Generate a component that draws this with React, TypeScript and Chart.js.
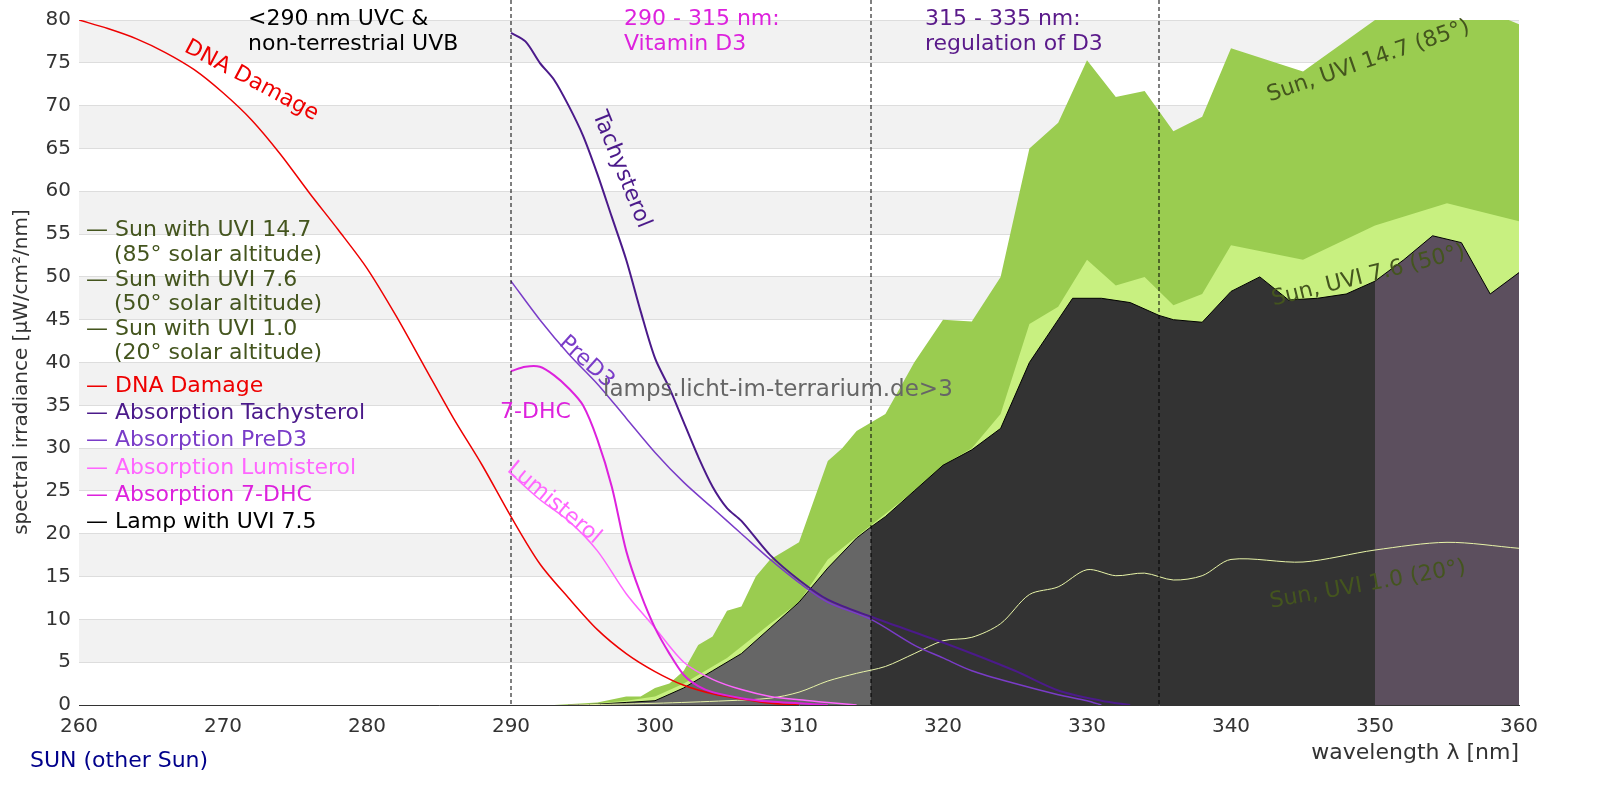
import React, { useEffect, useRef } from "react";
import { Chart, registerables } from "chart.js";
Chart.register(...registerables);

const xTicks = [260, 270, 280, 290, 300, 310, 320, 330, 340, 350, 360];
const sun147X = [293, 296, 298, 299, 300, 301, 302, 303, 304, 305, 306, 307, 308, 310, 312, 313, 314, 315, 316, 318, 320, 322, 324, 326, 328, 330, 332, 334, 336, 338, 340, 345, 350, 355, 360];
const sun147Y = [0, 0.3, 1, 1, 2, 2.5, 4, 7, 8, 11, 11.5, 15, 17, 19, 28.5, 30, 32, 33, 34, 40, 45, 44.8, 50, 65, 68, 75.3, 71, 71.7, 67, 68.7, 76.7, 74, 80, 83, 79.5];
const sun76X = [294, 296, 298, 300, 302, 305, 308, 310, 312, 315, 318, 320, 322, 324, 326, 328, 330, 332, 334, 336, 338, 340, 345, 350, 355, 360];
const sun76Y = [0, 0.2, 0.5, 1, 2.5, 5.5, 9.5, 12, 17, 21, 25, 28, 30, 34, 44.5, 46.5, 52, 49, 50, 46.7, 48, 53.7, 52, 56, 58.6, 56.5];
const lampX = [294, 296, 298, 300, 302, 304, 306, 308, 310, 312, 314, 315, 316, 318, 320, 322, 324, 326, 328, 329, 331, 333, 335, 336, 338, 340, 342, 344, 346, 348, 350, 352, 354, 356, 358, 360];
const lampY = [0, 0.1, 0.3, 0.5, 2, 4, 6, 9, 12, 16, 19.5, 20.8, 22, 25, 28, 29.8, 32.3, 40, 45, 47.5, 47.5, 47, 45.5, 45, 44.7, 48.3, 50, 47.3, 47.5, 48, 49.5, 52, 54.8, 54, 48, 50.5];
const sun10X = [294, 300, 305, 308, 310, 312, 314, 316, 318, 320, 322, 324, 326, 328, 330, 332, 334, 336, 338, 340, 345, 350, 355, 360];
const sun10Y = [0, 0.2, 0.5, 0.8, 1.5, 2.8, 3.7, 4.5, 6, 7.5, 7.9, 9.5, 12.9, 13.8, 15.8, 15.1, 15.4, 14.6, 15.1, 17, 16.7, 18.1, 19, 18.3];
const dnaX = [260, 262, 264, 266, 268, 270, 272, 274, 276, 278, 280, 282, 284, 286, 288, 290, 292, 294, 296, 298, 300, 302, 304, 306, 308, 310];
const dnaY = [80, 79, 77.8, 76.2, 74.2, 71.5, 68.3, 64.3, 59.8, 55.5, 51, 45.5, 39.5, 33.5, 28, 22, 16.5, 12.5, 8.8, 6, 3.9, 2.3, 1.3, 0.7, 0.2, 0];
const tachyX = [290, 291, 292, 293, 294, 295, 296, 297, 298, 299, 300, 301, 302, 303, 304, 305, 306, 308, 310, 312, 315, 320, 325, 328, 331, 333];
const tachyY = [78.5, 77.5, 75, 73, 70, 66.5, 62, 57, 52, 46, 40.5, 37, 33, 29, 25.5, 23, 21.5, 17.5, 14.6, 12.3, 10.3, 7.3, 4, 1.7, 0.5, 0];
const preX = [290, 292, 294, 296, 298, 300, 302, 304, 306, 308, 310, 312, 315, 318, 320, 322, 325, 328, 330, 331];
const preY = [49.5, 45, 41, 37.5, 33.5, 29.5, 26, 23, 20, 17, 14.3, 12, 10, 7, 5.5, 4, 2.5, 1.2, 0.5, 0];
const dhcX = [290, 291, 292, 293, 294, 295, 296, 297, 298, 299, 300, 301, 302, 303, 304, 306, 308, 310, 312];
const dhcY = [39, 39.5, 39.5, 38.5, 37, 35, 31, 25.5, 18, 13, 9, 6, 3.5, 2.2, 1.5, 0.8, 0.4, 0.2, 0];
const lumiX = [290, 292, 294, 296, 298, 300, 302, 304, 306, 308, 310, 312, 314];
const lumiY = [27, 24, 21.5, 18, 13, 9, 5, 3, 1.8, 1, 0.6, 0.3, 0];

const pts = (xs: number[], ys: number[]) => xs.map((x, i) => ({ x, y: ys[i] }));
const FONT = "'DejaVu Sans', sans-serif";

const legend: [string, string][] = [
  ["— Sun with UVI 14.7", "#44551e"],
  ["    (85° solar altitude)", "#44551e"],
  ["— Sun with UVI 7.6", "#44551e"],
  ["    (50° solar altitude)", "#44551e"],
  ["— Sun with UVI 1.0", "#44551e"],
  ["    (20° solar altitude)", "#44551e"],
  ["— DNA Damage", "#ee0000"],
  ["— Absorption Tachysterol", "#4b1a8a"],
  ["— Absorption PreD3", "#7a3cc8"],
  ["— Absorption Lumisterol", "#ff66ff"],
  ["— Absorption 7-DHC", "#dd22dd"],
  ["— Lamp with UVI 7.5", "#000000"],
];
const legendY = [230, 255, 280, 304, 329, 353, 386, 413, 440, 468, 495, 522];

export default function App() {
  const ref = useRef<HTMLCanvasElement>(null);
  useEffect(() => {
    const bands = {
      id: "bands",
      beforeDraw(c: any) {
        const { ctx, chartArea: a, scales } = c;
        ctx.save();
        ctx.fillStyle = "#f2f2f2";
        for (let v = 5; v < 80; v += 10) {
          const y1 = scales.y.getPixelForValue(v + 5), y0 = scales.y.getPixelForValue(v);
          ctx.fillRect(a.left, y1, a.right - a.left, y0 - y1);
        }
        ctx.restore();
      },
    };
    const txt = (ctx: any, s: string, x: number, y: number, color: string, size: number, rot = 0, align = "left") => {
      ctx.save();
      ctx.translate(x, y);
      ctx.rotate((rot * Math.PI) / 180);
      ctx.fillStyle = color;
      ctx.font = `${size}px ${FONT}`;
      ctx.textAlign = align;
      ctx.textBaseline = "middle";
      ctx.fillText(s, 0, 0);
      ctx.restore();
    };
    const annot = {
      id: "annot",
      afterDraw(c: any) {
        const { ctx, chartArea: a, scales } = c;
        ctx.save();
        ctx.strokeStyle = "#000";
        ctx.lineWidth = 1;
        ctx.setLineDash([4, 3]);
        [290, 315, 335].forEach((v) => {
          const x = scales.x.getPixelForValue(v);
          ctx.beginPath();
          ctx.moveTo(x, 0);
          ctx.lineTo(x, a.bottom);
          ctx.stroke();
        });
        ctx.restore();
        const S = 22;
        txt(ctx, "<290 nm UVC &", 248, 19, "#000", S);
        txt(ctx, "non-terrestrial UVB", 248, 44, "#000", S);
        txt(ctx, "290 - 315 nm:", 624, 19, "#dd22dd", S);
        txt(ctx, "Vitamin D3", 624, 44, "#dd22dd", S);
        txt(ctx, "315 - 335 nm:", 925, 19, "#5a1a8a", S);
        txt(ctx, "regulation of D3", 925, 44, "#5a1a8a", S);
        txt(ctx, "DNA Damage", 186, 46, "#ee0000", S, 28);
        txt(ctx, "Tachysterol", 598, 112, "#4b1a8a", S, 68);
        txt(ctx, "PreD3", 562, 340, "#7a3cc8", S, 42);
        txt(ctx, "7-DHC", 500, 412, "#dd22dd", S);
        txt(ctx, "Lumisterol", 510, 466, "#ff66ff", S, 40);
        txt(ctx, "lamps.licht-im-terrarium.de>3", 603, 390, "#666666", 23);
        txt(ctx, "Sun, UVI 14.7 (85°)", 1268, 96, "#44551e", S, -19);
        txt(ctx, "Sun, UVI 7.6 (50°)", 1272, 300, "#44551e", S, -14);
        txt(ctx, "Sun, UVI 1.0 (20°)", 1270, 602, "#44551e", S, -10);
        legend.forEach(([s, col], i) => txt(ctx, s, 86, legendY[i], col, S));
        txt(ctx, "spectral irradiance [µW/cm²/nm]", 22, 372, "#333", 20, -90, "center");
        txt(ctx, "wavelength λ [nm]", 1519, 753, "#333", 22, 0, "right");
        txt(ctx, "SUN (other Sun)", 30, 761, "#00008b", 22);
      },
    };
    const line = (label: string, data: any, color: string, w = 1.5, order = 1) => ({
      label, data, borderColor: color, borderWidth: w, pointRadius: 0, fill: false, order, tension: 0.3,
    });
    const chart = new Chart(ref.current!, {
      type: "line",
      data: {
        datasets: [
          { label: "sun147", data: pts(sun147X, sun147Y), borderWidth: 0, borderColor: "transparent", backgroundColor: "#9acc50", fill: "origin", pointRadius: 0, order: 10 },
          { label: "sun76", data: pts(sun76X, sun76Y), borderWidth: 0, borderColor: "transparent", backgroundColor: "#c8f080", fill: "origin", pointRadius: 0, order: 9 },
          {
            label: "lamp", data: pts(lampX, lampY), borderWidth: 1, borderColor: "#000", backgroundColor: "#333333", fill: "origin", pointRadius: 0, order: 8,
            segment: { backgroundColor: (ctx: any) => (ctx.p0.parsed.x < 315 ? "#666666" : ctx.p0.parsed.x >= 350 ? "#5c4f5e" : "#333333") },
          },
          line("sun10", pts(sun10X, sun10Y), "#e8f4a8", 1, 7),
          line("dna", pts(dnaX, dnaY), "#ee0000", 1.5, 2),
          line("tachy", pts(tachyX, tachyY), "#4b1a8a", 2, 1),
          line("pre", pts(preX, preY), "#7a3cc8", 1.5, 1),
          line("dhc", pts(dhcX, dhcY), "#dd22dd", 2, 1),
          line("lumi", pts(lumiX, lumiY), "#ff66ff", 1.5, 1),
        ] as any,
      },
      options: {
        animation: false,
        responsive: false,
        layout: { padding: { top: 20, right: 81, left: 0, bottom: 0 } },
        plugins: { legend: { display: false }, tooltip: { enabled: false } },
        scales: {
          x: {
            type: "linear", min: 260, max: 360,
            afterBuildTicks: (s: any) => { s.ticks = xTicks.map((v) => ({ value: v })); },
            afterFit: (s: any) => { s.height = 95; },
            grid: { display: false },
            border: { color: "#333" },
            ticks: { color: "#333", font: { family: FONT, size: 20 }, padding: 2 },
          },
          y: {
            min: 0, max: 80,
            afterFit: (s: any) => { s.width = 79; },
            ticks: { stepSize: 5, color: "#333", font: { family: FONT, size: 20 }, padding: 8 },
            grid: { color: "#dddddd", drawTicks: false },
            border: { display: false },
          },
        },
      } as any,
      plugins: [bands, annot],
    });
    return () => chart.destroy();
  }, []);
  return (
    <div style={{ position: "fixed", left: 0, top: 0, width: 1600, height: 800, background: "#fff" }}>
      <canvas ref={ref} width={1600} height={800} style={{ width: 1600, height: 800 }} />
    </div>
  );
}
